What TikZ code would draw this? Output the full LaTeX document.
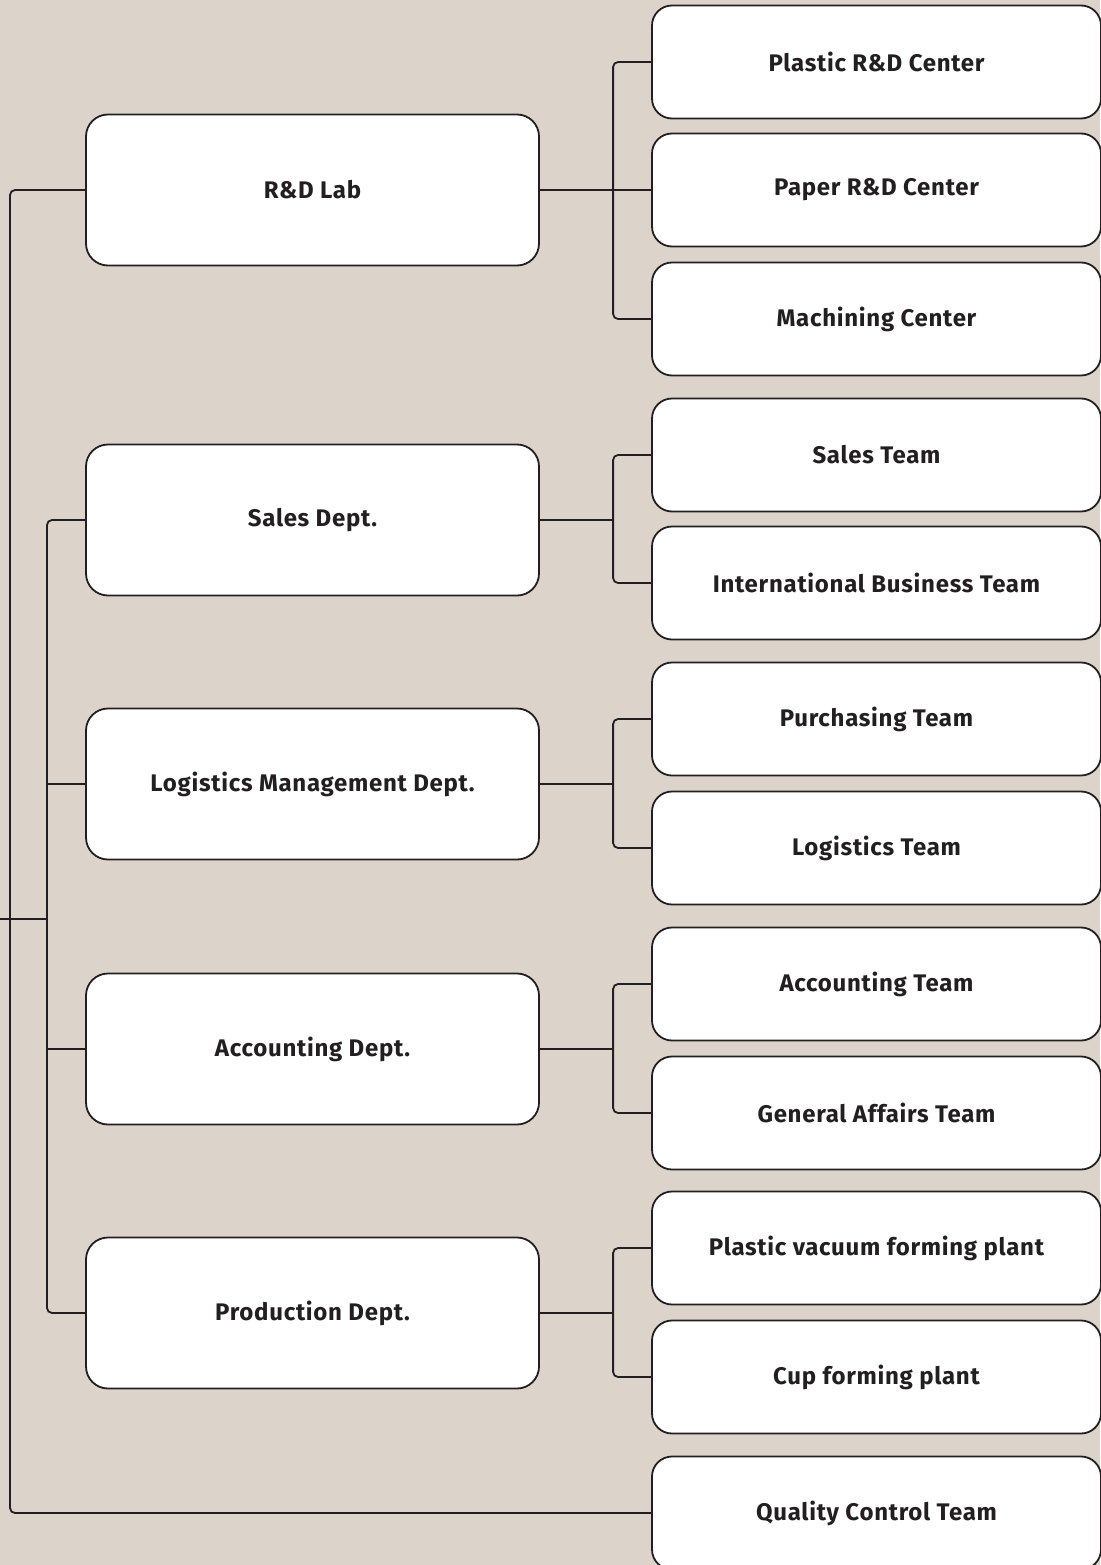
\documentclass[tikz,border=0pt]{standalone}
\usepackage{fontspec}
\setmainfont{Fira Sans}[LetterSpace=3]
\usetikzlibrary{calc}
\definecolor{bg}{RGB}{220,212,203}
\definecolor{ink}{RGB}{35,31,32}
\tikzset{
  x=1pt,y=-1pt,
  deptbox/.style={draw=ink,fill=white,line width=1.8pt,rounded corners=22pt,
    minimum width=453pt,minimum height=151pt,inner sep=0pt,
    font=\fontsize{24}{28}\selectfont\bfseries,text=ink},
  subbox/.style={draw=ink,fill=white,line width=1.8pt,rounded corners=20pt,
    minimum width=449pt,minimum height=113pt,inner sep=0pt,
    font=\fontsize{24}{28}\selectfont\bfseries,text=ink},
  link/.style={draw=ink,line width=1.8pt,rounded corners=5pt},
}
\begin{document}
\begin{tikzpicture}
\fill[bg] (0,0) rectangle (1100,1565);
\useasboundingbox (0,0) rectangle (1100,1565);
% departments
\node[deptbox] (rd)   at (312.5,190)  {R\&D Lab};
\node[deptbox] (sal)  at (312.5,520)  {Sales Dept.};
\node[deptbox] (log)  at (312.5,784)  {Logistics Management Dept.};
\node[deptbox] (acc)  at (312.5,1049) {Accounting Dept.};
\node[deptbox] (pro)  at (312.5,1313) {Production Dept.};
% sub units
\node[subbox] (p1) at (876.5,62)   {Plastic R\&D Center};
\node[subbox] (p2) at (876.5,190)  {Paper R\&D Center};
\node[subbox] (p3) at (876.5,319)  {Machining Center};
\node[subbox] (s1) at (876.5,455)  {Sales Team};
\node[subbox] (s2) at (876.5,583)  {International Business Team};
\node[subbox] (l1) at (876.5,719)  {Purchasing Team};
\node[subbox] (l2) at (876.5,848)  {Logistics Team};
\node[subbox] (a1) at (876.5,984)  {Accounting Team};
\node[subbox] (a2) at (876.5,1113) {General Affairs Team};
\node[subbox] (f1) at (876.5,1248) {Plastic vacuum forming plant};
\node[subbox] (f2) at (876.5,1377) {Cup forming plant};
\node[subbox] (qc) at (876.5,1513) {Quality Control Team};
% left trunk
\coordinate (stub) at (0,919);
\draw[link] (rd.west) -| (10,800) |- (qc.west);
\draw[link] (sal.west) -| (47,900) |- (pro.west);
\draw[link] (stub) -- (47,919);
\draw[link] (log.west) -- (47,784);
\draw[link] (acc.west) -- (47,1049);
% dept to sub units
\foreach \d/\a/\b in {rd/p1/p3, sal/s1/s2, log/l1/l2, acc/a1/a2, pro/f1/f2}{
  \draw[link] (\a.west) -- ++(-38,0) |- (\b.west);
  \draw[link] (\d.east) -- ($(\d.east -| \a.west)+(-38,0)$);
}
\draw[link] ($(rd.east -| p2.west)+(-38,0)$) -- (p2.west);
\end{tikzpicture}
\end{document}
